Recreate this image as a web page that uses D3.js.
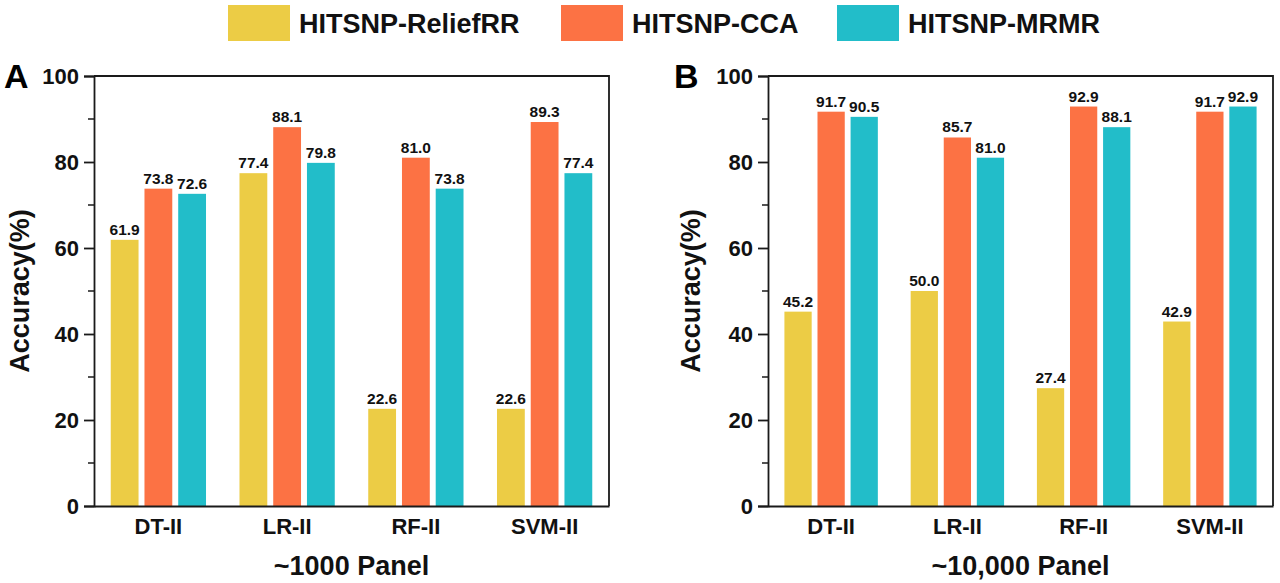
<!DOCTYPE html>
<html>
<head>
<meta charset="utf-8">
<script src="https://cdn.jsdelivr.net/npm/d3@7"></script>
<style>
  body { margin: 0; background: #fff; }
  svg { display: block; font-family: "Liberation Sans", Arial, sans-serif; font-weight: bold; }
</style>
</head>
<body>
<svg id="chart" width="1280" height="583"></svg>
<script>
const categories = ["DT-II", "LR-II", "RF-II", "SVM-II"];
const seriesNames = ["HITSNP-ReliefRR", "HITSNP-CCA", "HITSNP-MRMR"];
const colors = ["#ECCC45", "#FC7244", "#22BDC9"];
const yTicks = [0, 20, 40, 60, 80, 100];
const yMinorTicks = [10, 30, 50, 70, 90];

// ~1000 panel
const panelA_relief = [61.9, 77.4, 22.6, 22.6];
const panelA_cca = [73.8, 88.1, 81.0, 89.3];
const panelA_mrmr = [72.6, 79.8, 73.8, 77.4];

// ~10,000 panel
const panelB_relief = [45.2, 50.0, 27.4, 42.9];
const panelB_cca = [91.7, 85.7, 92.9, 91.7];
const panelB_mrmr = [90.5, 81.0, 88.1, 92.9];

const svg = d3.select("#chart");
const axisColor = "#1a1a1a";
const plotTop = 76, plotBottom = 506;

function drawPanel(left, right, series, letter, letterX, titleX, xTitle) {
  const g = svg.append("g");

  const y = d3.scaleLinear().domain([0, 100]).range([plotBottom, plotTop]);
  const x0 = d3.scaleBand().domain(categories).range([left, right]).padding(0);
  const off = x0.step() * 0.13;
  const x1 = d3
    .scaleBand()
    .domain(seriesNames)
    .range([off, x0.step() - off])
    .paddingInner(0.176)
    .paddingOuter(0);

  // bars + value labels
  series.forEach((vals, si) => {
    g.append("g")
      .selectAll("rect")
      .data(vals)
      .join("rect")
      .attr("x", (d, i) => x0(categories[i]) + x1(seriesNames[si]))
      .attr("y", (d) => y(d))
      .attr("width", x1.bandwidth())
      .attr("height", (d) => y(0) - y(d))
      .attr("fill", colors[si]);

    g.append("g")
      .selectAll("text")
      .data(vals)
      .join("text")
      .attr("x", (d, i) => x0(categories[i]) + x1(seriesNames[si]) + x1.bandwidth() / 2)
      .attr("y", (d) => y(d) - 5)
      .attr("text-anchor", "middle")
      .attr("font-size", "15.5px")
      .attr("fill", "#111")
      .text((d) => d.toFixed(1));
  });

  // frame (top and right)
  g.append("path")
    .attr("d", `M${left},${plotTop}H${right}V${plotBottom}`)
    .attr("fill", "none")
    .attr("stroke", axisColor)
    .attr("stroke-width", 1.8);

  // y axis
  const yAxis = g
    .append("g")
    .attr("transform", `translate(${left},0)`)
    .call(d3.axisLeft(y).tickValues(yTicks).tickSize(10).tickPadding(5).tickFormat(d3.format("d")));
  yAxis.select(".domain").attr("stroke", axisColor).attr("stroke-width", 1.8);
  yAxis.selectAll(".tick line").attr("stroke", axisColor).attr("stroke-width", 1.8);
  yAxis.selectAll(".tick text")
    .attr("font-size", "22px")
    .attr("font-family", "Liberation Sans, Arial, sans-serif")
    .attr("font-weight", "bold")
    .attr("fill", "#111");

  g.append("g")
    .selectAll("line")
    .data(yMinorTicks)
    .join("line")
    .attr("x1", left - 6)
    .attr("x2", left)
    .attr("y1", (d) => y(d))
    .attr("y2", (d) => y(d))
    .attr("stroke", axisColor)
    .attr("stroke-width", 1.5);

  // x axis
  const xAxis = g
    .append("g")
    .attr("transform", `translate(0,${plotBottom})`)
    .call(d3.axisBottom(x0).tickSize(0).tickPadding(12));
  xAxis.select(".domain").attr("stroke", axisColor).attr("stroke-width", 1.8);
  xAxis.selectAll(".tick text")
    .attr("font-size", "22px")
    .attr("font-family", "Liberation Sans, Arial, sans-serif")
    .attr("font-weight", "bold")
    .attr("fill", "#111");

  // titles
  g.append("text")
    .attr("x", (left + right) / 2)
    .attr("y", 575)
    .attr("text-anchor", "middle")
    .attr("font-size", "27px")
    .attr("fill", "#111")
    .text(xTitle);

  g.append("text")
    .attr("transform", `translate(${titleX},${(plotTop + plotBottom) / 2}) rotate(-90)`)
    .attr("text-anchor", "middle")
    .attr("font-size", "27px")
    .attr("fill", "#111")
    .text("Accuracy(%)");

  g.append("text")
    .attr("x", letterX)
    .attr("y", 88)
    .attr("font-size", "34px")
    .attr("fill", "#000")
    .text(letter);
}

drawPanel(94, 609, [panelA_relief, panelA_cca, panelA_mrmr], "A", 4, 29, "~1000 Panel");
drawPanel(768, 1273, [panelB_relief, panelB_cca, panelB_mrmr], "B", 674, 700, "~10,000 Panel");

// legend
const legendX = [228, 561, 837];
const legend = svg.append("g");
seriesNames.forEach((name, i) => {
  legend.append("rect")
    .attr("x", legendX[i])
    .attr("y", 5)
    .attr("width", 62)
    .attr("height", 36)
    .attr("fill", colors[i]);
  legend.append("text")
    .attr("x", legendX[i] + 71)
    .attr("y", 33)
    .attr("font-size", "27px")
    .attr("fill", "#111")
    .text(name);
});
</script>
</body>
</html>
